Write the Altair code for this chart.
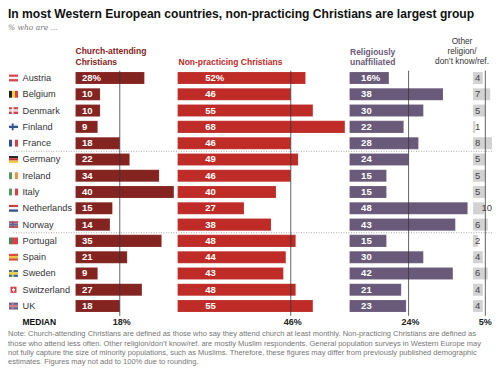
import altair as alt
import pandas as pd

countries = ["Austria","Belgium","Denmark","Finland","France","Germany","Ireland","Italy","Netherlands","Norway","Portugal","Spain","Sweden","Switzerland","UK"]
church = [28,10,10,9,18,22,34,40,15,14,35,21,9,27,18]
nonprac = [52,46,55,68,46,49,46,40,27,38,48,44,43,48,55]
unaff = [16,38,30,22,28,24,15,15,48,43,15,30,42,21,23]
other = [4,7,5,1,8,5,5,5,10,6,2,4,6,4,4]
medians = [18,46,24,5]
median_labels = ["18%","46%","24%","5%"]
groups = ["Church-attending","Non-practicing","Unaffiliated","Other"]
colors = ["#842420","#bf2c27","#6a5a7a","#d2d2d2"]
bases = [0,41.5,111.4,161.6]
label_offsets = [2.6,11.2,4.7]
median_label_shift = [0.8,0.8,0.8,0.0]
other_bar_cap = 4.6

flags = {
 "Austria":("h",["#d8414a","#f4f4f4","#d8414a"],None),
 "Belgium":("v",["#222222","#f2d23c","#d8414a"],None),
 "Denmark":("h",["#d8414a","#f0d0d0","#d8414a"],"#f4f4f4"),
 "Finland":("h",["#f4f4f4","#33568f","#f4f4f4"],"#33568f"),
 "France":("v",["#2e4f8f","#f4f4f4","#d8414a"],None),
 "Germany":("h",["#222222","#c9302c","#f2c93c"],None),
 "Ireland":("v",["#4f9a5c","#f4f4f4","#ef9342"],None),
 "Italy":("v",["#4f9a5c","#f4f4f4","#d8414a"],None),
 "Netherlands":("h",["#c9403f","#f4f4f4","#34508f"],None),
 "Norway":("h",["#d0505a","#5a6a9a","#d0505a"],"#5a6a9a"),
 "Portugal":("v",["#3f8a50","#d8414a","#d8414a"],None),
 "Spain":("h",["#d8503a","#f2c23c","#d8503a"],None),
 "Sweden":("h",["#3a6a9a","#f2d23c","#3a6a9a"],"#f2d23c"),
 "Switzerland":("s",["#d8414a"],"#f4f4f4"),
 "UK":("h",["#5a5f90","#d07a85","#5a5f90"],"#d07a85"),
}

PX = 2.46
W, H = 484, 359
ORIGIN, ROW0, PITCH = 67.5, 70, 16.29
xs = alt.Scale(domain=[-ORIGIN/PX, (W-ORIGIN)/PX], range=[0,W], nice=False, zero=False)
ys = alt.Scale(domain=[-ROW0/PITCH, (H-ROW0)/PITCH], range=[0,H], nice=False, zero=False)
X = alt.X("x:Q", scale=xs, axis=None)
Y = alt.Y("y:Q", scale=ys, axis=None)

rows=[]
for k,(g,vals,b,c) in enumerate(zip(groups,[church,nonprac,unaff,other],bases,colors)):
    for i,(n,v) in enumerate(zip(countries,vals)):
        shown = min(v, other_bar_cap) if (g=="Other" and v>=10) else v
        if g=="Other":
            lx = b + (5.6 if v>=10 else 1.9)
        else:
            lx = b + label_offsets[k]
        rows.append(dict(country=n,group=g,x=b,x2=b+shown,y=i-0.37,y2=i+0.37,yc=i,v=v,c=c,
                         label=(f"{v}%" if i==0 and g!="Other" else str(v)),lx=lx))
bars=pd.DataFrame(rows)
bar_layer=alt.Chart(bars).mark_rect(stroke="#ffffff",strokeOpacity=0.25,strokeWidth=0.5).encode(
    X,alt.X2("x2"),Y,alt.Y2("y2"),color=alt.Color("c:N",scale=None))

LX = alt.X("lx:Q",scale=xs,axis=None)
LY = alt.Y("yc:Q",scale=ys,axis=None)
lab=alt.Chart(bars[bars.group!="Other"]).mark_text(font="Liberation Sans",fontWeight="bold",fontSize=9.5,align="left",baseline="middle",color="#ffffff").encode(
    LX,LY,text="label:N")
lab2=alt.Chart(bars[bars.group=="Other"]).mark_text(font="Liberation Sans",fontSize=9.5,align="center",baseline="middle",color="#444444").encode(
    LX,LY,text="label:N")

names=alt.Chart(pd.DataFrame(dict(country=countries,y=list(range(15)),x=[-53/PX]*15))).mark_text(
    font="Liberation Sans",fontSize=9.2,align="left",baseline="middle",color="#333333").encode(X,Y,text="country:N")

frows=[]
FX0, FW, FH = -66.5, 9.0, 0.42
for i,n in enumerate(countries):
    o,cs,cross=flags[n]
    top=i-FH/2
    if o=="h":
        for j,c in enumerate(cs):
            frows.append(dict(x=FX0/PX,x2=(FX0+FW)/PX,y=top+j*FH/3,y2=top+(j+1)*FH/3,c=c))
        if cross:
            frows.append(dict(x=(FX0+2.8)/PX,x2=(FX0+4.6)/PX,y=top,y2=top+FH,c=cross))
    elif o=="v":
        for j,c in enumerate(cs):
            frows.append(dict(x=(FX0+j*FW/3)/PX,x2=(FX0+(j+1)*FW/3)/PX,y=top,y2=top+FH,c=c))
    else:
        frows.append(dict(x=(FX0+1.5)/PX,x2=(FX0+7.5)/PX,y=i-0.19,y2=i+0.19,c=cs[0]))
        frows.append(dict(x=(FX0+3)/PX,x2=(FX0+6)/PX,y=i-0.05,y2=i+0.05,c=cross))
        frows.append(dict(x=(FX0+4)/PX,x2=(FX0+5)/PX,y=i-0.13,y2=i+0.13,c=cross))
fl=alt.Chart(pd.DataFrame(frows)).mark_rect().encode(X,alt.X2("x2"),Y,alt.Y2("y2"),color=alt.Color("c:N",scale=None))

mp=pd.DataFrame(dict(x=[b+m for b,m in zip(bases,medians)],tx=[b+m+s for b,m,s in zip(bases,medians,median_label_shift)],
                     y=[-0.45]*4,y2=[14.6]*4,label=median_labels,ly=[15.0]*4))
mrule=alt.Chart(mp).mark_rule(color="#333333",strokeWidth=0.9,opacity=0.85).encode(X,Y,alt.Y2("y2"))
mtext=alt.Chart(mp).mark_text(font="Liberation Sans",fontWeight="bold",fontSize=9,align="center",baseline="middle",color="#222222").encode(
    alt.X("tx:Q",scale=xs,axis=None),alt.Y("ly:Q",scale=ys,axis=None),text="label:N")

seps=pd.DataFrame(dict(x=[-62/PX,-62/PX],x2=[(W-ORIGIN)/PX]*2,y=[4.5,9.5]))
sep=alt.Chart(seps).mark_rule(color="#888888",strokeWidth=0.7,strokeDash=[1,1.5]).encode(X,alt.X2("x2"),Y)

def t(s,x,y,**kw):
    return alt.Chart(pd.DataFrame(dict(s=[s]))).mark_text(align=kw.pop("align","left"),baseline="middle",**kw).encode(
        x=alt.value(x),y=alt.value(y),text="s:N")
NOTE=dict(font="Liberation Sans",fontSize=7.5,color="#777777")
B=dict(font="Liberation Sans",fontWeight="bold",fontSize=8.5)
R=dict(font="Liberation Sans",fontSize=8.3,color="#333333",align="center")
titles=[
 t("In most Western European countries, non-practicing Christians are largest group",0,5.5,font="Liberation Sans",fontWeight="bold",fontSize=12.1,color="#111111"),
 t("% who are ...",0,20,font="DejaVu Serif",fontStyle="italic",fontSize=7.5,color="#777777"),
 t("Church-attending",67.5,43,color="#842420",**B),
 t("Christians",67.5,54,color="#842420",**B),
 t("Non-practicing Christians",170.5,54,color="#bf2c27",**B),
 t("Religiously",342,44,color="#6a5a7a",**B),
 t("unaffiliated",342,54,color="#6a5a7a",**B),
 t("Other",454,34,**R),
 t("religion/",454,44,**R),
 t("don\u2019t know/ref.",454,54,**R),
 t("MEDIAN",14.5,314,color="#111111",**B),
 t("Note: Church-attending Christians are defined as those who say they attend church at least monthly. Non-practicing Christians are defined as",0,326,**NOTE),
 t("those who attend less often. Other religion/don\u2019t know/ref. are mostly Muslim respondents. General population surveys in Western Europe may",0,335.5,**NOTE),
 t("not fully capture the size of minority populations, such as Muslims. Therefore, these figures may differ from previously published demographic",0,345,**NOTE),
 t("estimates. Figures may not add to 100% due to rounding.",0,354,**NOTE),
]

chart=alt.layer(sep,bar_layer,mrule,fl,names,lab,lab2,mtext,*titles).properties(
    width=W,height=H,padding=0,autosize=alt.AutoSizeParams(type="none")
).configure_view(stroke=None)
chart.save("out.html", embed_options={"renderer": "svg", "actions": False})
